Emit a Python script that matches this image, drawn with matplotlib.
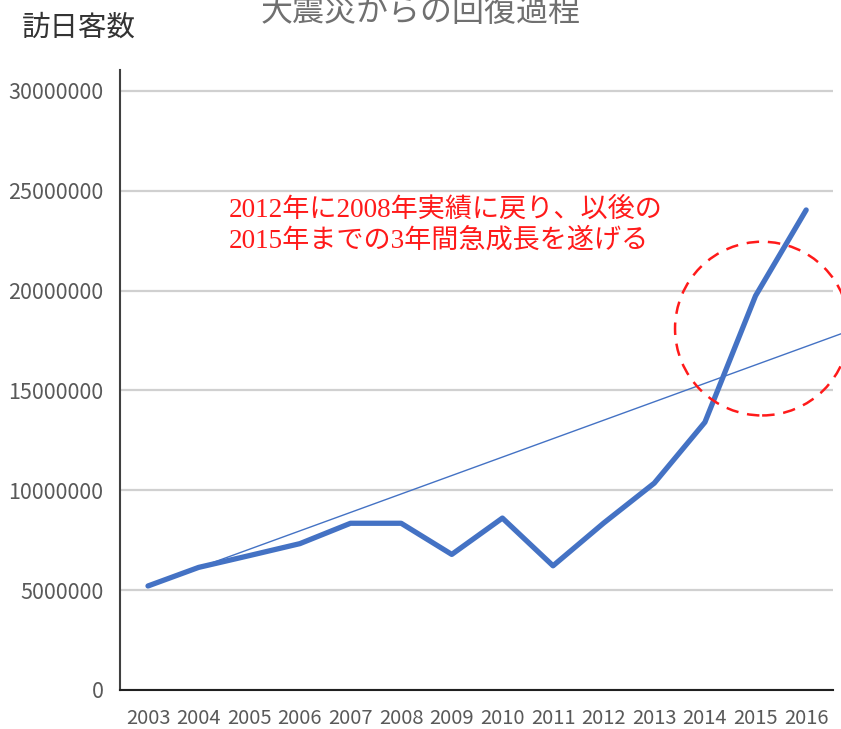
import matplotlib
matplotlib.use('Agg')
import matplotlib.pyplot as plt
from matplotlib.patches import Ellipse

plt.rcParams['font.family'] = ['Noto Sans CJK JP', 'DejaVu Sans']

# Visitors to Japan (訪日客数) by year
years = [2003, 2004, 2005, 2006, 2007, 2008, 2009, 2010, 2011, 2012, 2013, 2014, 2015, 2016]
visitors = [5210000, 6140000, 6730000, 7330000, 8350000, 8350000, 6790000,
            8610000, 6220000, 8360000, 10360000, 13410000, 19740000, 24040000]

# thin reference line (start, end)
trend_years = [2003, 2016.7]
trend_vals = [5200000, 17850000]

yticks = [0, 5000000, 10000000, 15000000, 20000000, 25000000, 30000000]

title = '大震災からの回復過程'
ylabel = '訪日客数'
note = '2012年に2008年実績に戻り、以後の\n2015年までの3年間急成長を遂げる'

fig = plt.figure(figsize=(8.41, 7.29), dpi=100)
ax = fig.add_axes([120/841, 1-690/729, (833-120)/841, (690-70)/729])

ax.set_xlim(2002.447, 2016.53)
ax.set_ylim(0, 31050000)

# gridlines
for v in yticks:
    ax.axhline(v, color='#d0d0d0', lw=1.6, zorder=1)

ax.plot(trend_years, trend_vals, color='#4472C4', lw=1.0, zorder=2, clip_on=False)
ax.plot(years, visitors, color='#4472C4', lw=3.8, zorder=3, solid_capstyle='round')

# dashed circle around the 2014-2016 surge
circ = Ellipse((2015.13, 18100000), width=3.44, height=8700000, fill=False,
               edgecolor='#ff1a1a', lw=1.8, ls=(0, (5, 3.5)), clip_on=False, zorder=4)
ax.add_patch(circ)

ax.text(2004.6, 23250000, note, color='#ff1a1a', fontsize=19.5,
        family=['Liberation Serif', 'Noto Sans CJK JP'], va='center', ha='left',
        linespacing=1.25)

ax.set_xticks(years)
ax.set_xticklabels([str(y) for y in years])
ax.set_yticks(yticks)
ax.set_yticklabels([str(v) for v in yticks])
ax.tick_params(axis='x', length=0, labelsize=14.5, labelcolor='#595959', pad=13)
ax.tick_params(axis='y', length=0, labelsize=15.5, labelcolor='#595959', pad=12)

for s in ['top', 'right']:
    ax.spines[s].set_visible(False)
ax.spines['left'].set_color('#404040')
ax.spines['left'].set_linewidth(1.5)
ax.spines['bottom'].set_color('#202020')
ax.spines['bottom'].set_linewidth(1.5)

fig.text(421/841, 1-12/729, title, color='#707070', fontsize=23, ha='center', va='center')
fig.text(22/841, 1-28/729, ylabel, color='#333333', fontsize=20.5, ha='left', va='center')

fig.savefig('out.png', dpi=100)
